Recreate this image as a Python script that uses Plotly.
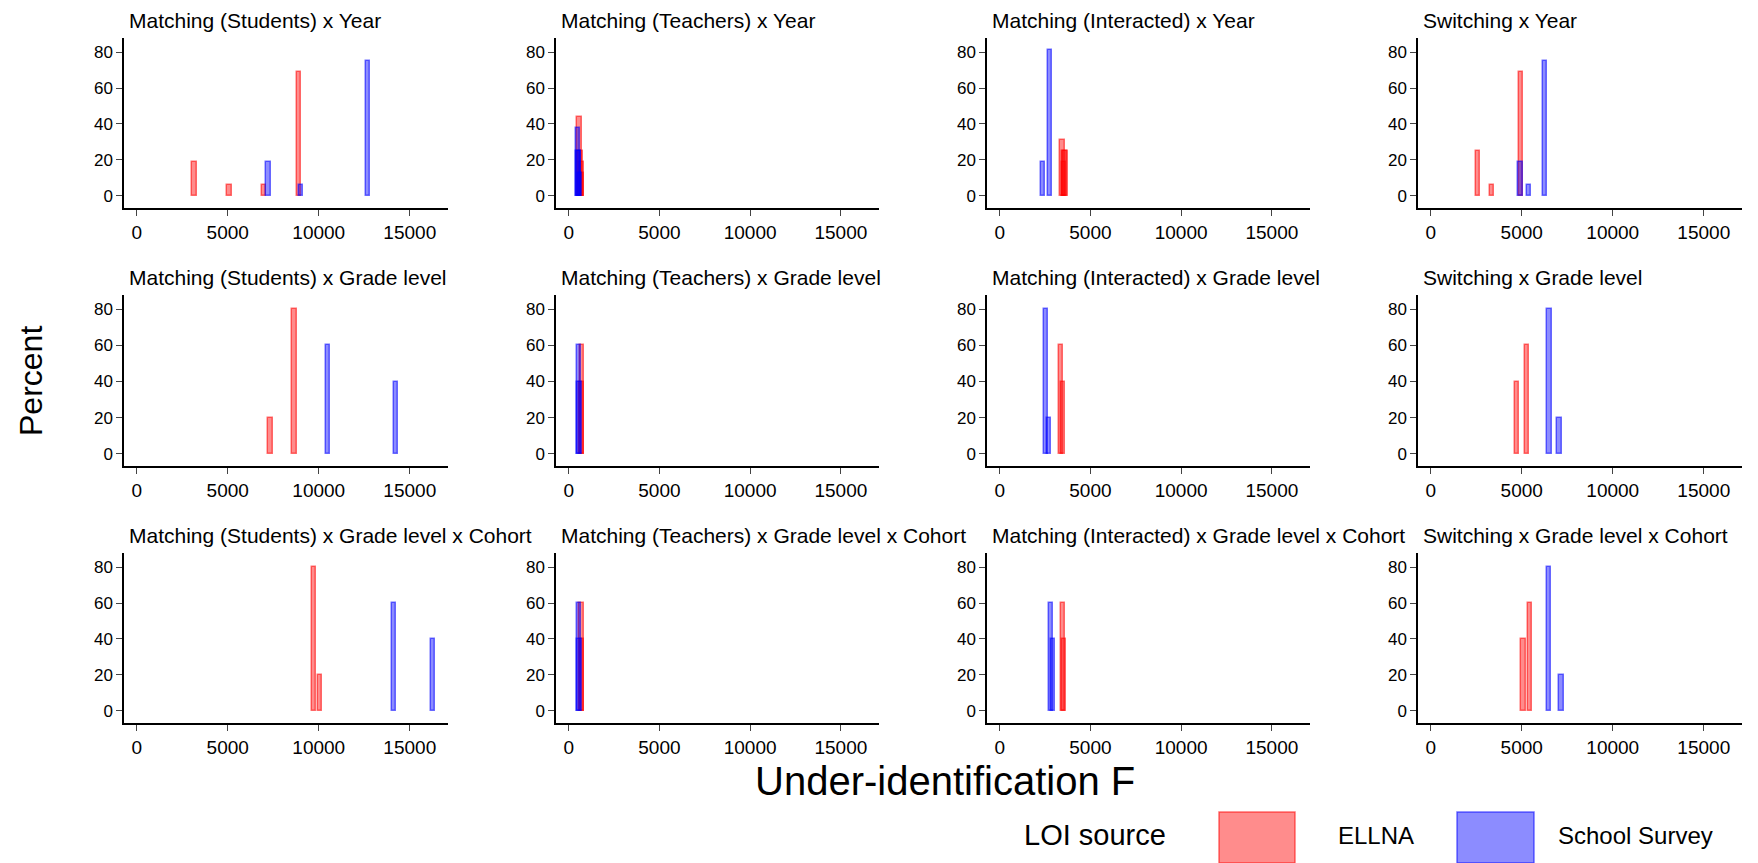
import plotly.graph_objects as go

# the page body adds an 8 px margin, so the figure is drawn 8 px smaller
# and every position below is given in window pixels
PAGE_W, PAGE_H = 1758, 863
OFF = 8
W, H = PAGE_W - OFF, PAGE_H - OFF

panel_titles = [
    "Matching (Students) x Year", "Matching (Teachers) x Year",
    "Matching (Interacted) x Year", "Switching x Year",
    "Matching (Students) x Grade level", "Matching (Teachers) x Grade level",
    "Matching (Interacted) x Grade level", "Switching x Grade level",
    "Matching (Students) x Grade level x Cohort", "Matching (Teachers) x Grade level x Cohort",
    "Matching (Interacted) x Grade level x Cohort", "Switching x Grade level x Cohort",
]

# ELLNA: under-identification F (bin centres) and percent per panel
ellna_f = [
    [3170, 5090, 6990, 8930],
    [600, 650, 700, 720],
    [3470, 3530, 3580, 3620],
    [2590, 3360, 4950],
    [7340, 8660],
    [730, 700],
    [3370, 3480],
    [4730, 5290],
    [9750, 10080],
    [700, 720],
    [3480, 3530],
    [5090, 5440],
]
ellna_pct = [
    [18.75, 6.25, 6.25, 68.75],
    [43.75, 25, 18.75, 12.5],
    [31.25, 18.75, 25, 25],
    [25, 6.25, 68.75],
    [20, 80],
    [60, 40],
    [60, 40],
    [40, 60],
    [80, 20],
    [60, 40],
    [60, 40],
    [40, 60],
]

# School Survey
survey_f = [
    [7230, 9020, 12720],
    [500, 540, 580, 620],
    [2380, 2760],
    [4930, 5385, 6260],
    [10520, 14230],
    [560, 590],
    [2540, 2710],
    [6520, 7080],
    [14130, 16290],
    [560, 600],
    [2820, 2930],
    [6480, 7190],
]
survey_pct = [
    [18.75, 6.25, 75],
    [37.5, 25, 25, 12.5],
    [18.75, 81.25],
    [18.75, 6.25, 75],
    [60, 40],
    [60, 40],
    [80, 20],
    [80, 20],
    [60, 40],
    [60, 40],
    [60, 40],
    [80, 20],
]

x_ticks = [0, 5000, 10000, 15000]
y_ticks = [0, 20, 40, 60, 80]

# pixel frames of the panels (window coordinates)
col_px = [(124, 448), (556, 879), (987, 1310), (1418, 1742)]
row_px = [(38, 208), (295, 466), (553, 723)]
title_py = [18, 275, 533]

RED_FILL = "rgba(255,0,0,0.45)"
RED_LINE = "rgba(255,0,0,0.55)"
BLUE_FILL = "rgba(0,0,255,0.45)"
BLUE_LINE = "rgba(0,0,255,0.55)"
FONT = "Liberation Sans, Arial, sans-serif"


def px(x):
    return (x - OFF) / W


def py(y):
    return 1 - (y - OFF) / H


fig = go.Figure()
layout = {}
annotations = []

for i, title in enumerate(panel_titles):
    r, c = divmod(i, 4)
    n = i + 1
    xa = "x" if n == 1 else f"x{n}"
    ya = "y" if n == 1 else f"y{n}"
    x0, x1 = col_px[c]
    y0, y1 = row_px[r]

    fig.add_trace(go.Bar(
        x=ellna_f[i], y=ellna_pct[i], width=240,
        marker=dict(color=RED_FILL, line=dict(color=RED_LINE, width=1.5)),
        xaxis=xa, yaxis=ya, showlegend=False, name="ELLNA",
    ))
    fig.add_trace(go.Bar(
        x=survey_f[i], y=survey_pct[i], width=240,
        marker=dict(color=BLUE_FILL, line=dict(color=BLUE_LINE, width=1.5)),
        xaxis=xa, yaxis=ya, showlegend=False, name="School Survey",
    ))

    layout["xaxis" if n == 1 else f"xaxis{n}"] = dict(
        domain=[px(x0), px(x1)], anchor=ya, range=[-700, 17100],
        tickvals=x_ticks, ticktext=[str(v) for v in x_ticks],
        ticks="outside", ticklen=6, tickwidth=1.3,
        showline=True, linecolor="black", linewidth=1.5, showgrid=False,
        zeroline=False, tickfont=dict(size=19, color="black"),
    )
    layout["yaxis" if n == 1 else f"yaxis{n}"] = dict(
        domain=[py(y1), py(y0)], anchor=xa, range=[-6.7, 87.8],
        tickvals=y_ticks, ticks="outside", ticklen=6, tickwidth=1.3,
        showline=True, linecolor="black", linewidth=1.5, showgrid=False,
        zeroline=False, tickfont=dict(size=17, color="black"),
    )
    annotations.append(dict(
        text=title, xref="paper", yref="paper", x=px(x0 + 3),
        y=py(title_py[r] + 2), xanchor="left", yanchor="middle",
        showarrow=False, font=dict(size=21, color="black"),
    ))

annotations += [
    dict(text="Under-identification F", xref="paper", yref="paper",
         x=px(945), y=py(781), xanchor="center", yanchor="middle",
         showarrow=False, font=dict(size=40, color="black")),
    dict(text="Percent", xref="paper", yref="paper", x=px(31), y=py(381),
         xanchor="center", yanchor="middle", textangle=-90,
         showarrow=False, font=dict(size=32, color="black")),
    dict(text="LOI source", xref="paper", yref="paper", x=px(1022), y=py(835),
         xanchor="left", yanchor="middle", showarrow=False,
         font=dict(size=29, color="black")),
    dict(text="ELLNA", xref="paper", yref="paper", x=px(1336), y=py(835),
         xanchor="left", yanchor="middle", showarrow=False,
         font=dict(size=24, color="black")),
    dict(text="School Survey", xref="paper", yref="paper", x=px(1556), y=py(835),
         xanchor="left", yanchor="middle", showarrow=False,
         font=dict(size=24, color="black")),
]

shapes = [
    dict(type="rect", xref="paper", yref="paper", x0=px(1219), x1=px(1295),
         y0=0, y1=py(812), fillcolor=RED_FILL, line=dict(color=RED_LINE, width=1.5)),
    dict(type="rect", xref="paper", yref="paper", x0=px(1457), x1=px(1534),
         y0=0, y1=py(812), fillcolor=BLUE_FILL, line=dict(color=BLUE_LINE, width=1.5)),
]

fig.update_layout(
    width=W, height=H, autosize=False,
    margin=dict(l=0, r=0, t=0, b=0),
    paper_bgcolor="white", plot_bgcolor="white",
    barmode="overlay", bargap=0,
    font=dict(family=FONT, color="black"),
    annotations=annotations, shapes=shapes,
    **layout,
)

fig.write_html("out.html")
